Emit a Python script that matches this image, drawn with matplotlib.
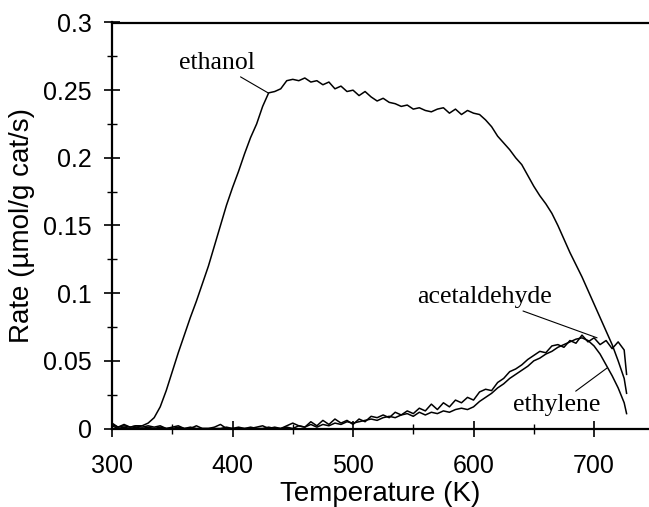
import matplotlib
matplotlib.use("Agg")
import matplotlib.pyplot as plt
from matplotlib.ticker import MultipleLocator

temps = list(range(300, 726, 5)) + [727]

ethanol = [.004, .001, .003, .001, .002, .002, .004, .008, .016, .028,
           .042, .056, .069, .082, .094, .107, .120, .135, .150, .165,
           .178, .190, .203, .215, .225, .238, .248, .249, .251, .257,
           .258, .257, .259, .256, .257, .254, .256, .251, .253, .249,
           .250, .246, .249, .245, .242, .244, .241, .240, .238, .239,
           .236, .237, .235, .234, .236, .237, .233, .236, .232, .235,
           .233, .232, .228, .223, .216, .211, .206, .200, .195, .187,
           .179, .172, .166, .159, .150, .140, .130, .121, .112, .102,
           .092, .082, .072, .062, .050, .037, .026]

acetaldehyde = [.003, .001, .002, .001, .002, .001, .002, .001, .002, .000,
                .001, .002, .000, .001, .000, .000, .000, .001, .003, .000,
                .000, .001, .000, .000, .001, .002, .000, .001, .000, .002,
                .004, .002, .001, .005, .002, .006, .003, .007, .004, .006,
                .003, .007, .005, .009, .008, .010, .008, .012, .010, .013,
                .011, .015, .013, .018, .014, .019, .016, .021, .019, .023,
                .021, .027, .029, .028, .034, .037, .042, .044, .047, .051,
                .054, .057, .056, .061, .062, .060, .065, .063, .069, .064,
                .067, .062, .065, .059, .064, .058, .040]

ethylene = [.002, .000, .001, .000, .001, .000, .001, .000, .001, .000,
            .000, .001, .000, .000, .002, .000, .000, .000, .000, .001,
            .000, .000, .000, .001, .000, .000, .001, .000, .000, .001,
            .000, .002, .001, .003, .001, .003, .002, .004, .003, .005,
            .004, .005, .006, .007, .006, .008, .009, .008, .010, .011,
            .009, .012, .010, .012, .011, .013, .012, .014, .015, .014,
            .016, .020, .023, .026, .030, .033, .037, .040, .043, .046,
            .050, .052, .055, .057, .060, .062, .064, .066, .067, .065,
            .061, .055, .047, .039, .030, .019, .011]

x_ticks = [300, 400, 500, 600, 700]
y_ticks = [0, 0.05, 0.1, 0.15, 0.2, 0.25, 0.3]
y_ticklabels = ["0", "0.05", "0.1", "0.15", "0.2", "0.25", "0.3"]

fig = plt.figure(figsize=(6.49, 5.07), dpi=100)
ax = fig.add_axes([112/649, 1 - 428.5/507, 1 - 112/649, (428.5 - 22.5)/507])

for series in (ethanol, acetaldehyde, ethylene):
    ax.plot(temps, series, color="black", lw=1.1)

ax.set_xlim(300, 745.6)
ax.set_ylim(0, 0.3)
ax.set_xticks(x_ticks)
ax.set_yticks(y_ticks)
ax.set_yticklabels(y_ticklabels)
ax.xaxis.set_minor_locator(MultipleLocator(50))
ax.yaxis.set_minor_locator(MultipleLocator(0.025))

sans = "Liberation Sans"
serif = "Liberation Serif"
for lab in ax.get_xticklabels() + ax.get_yticklabels():
    lab.set_fontfamily(sans)
    lab.set_fontsize(18)

ax.tick_params(axis="both", which="major", direction="inout", length=11, width=1.2)
ax.tick_params(axis="both", which="minor", direction="inout", length=7, width=1.0)
ax.tick_params(axis="x", which="major", pad=13)
ax.tick_params(axis="y", which="major", pad=9)

for s in ("left", "bottom", "top"):
    ax.spines[s].set_linewidth(1.6)
ax.spines["right"].set_visible(False)

ax.set_xlabel("Temperature (K)", fontfamily=sans, fontsize=20, labelpad=2)
ax.set_ylabel("Rate (\u00b5mol/g cat/s)", fontfamily=sans, fontsize=20, labelpad=6)

ann = dict(fontfamily=serif, fontsize=18.5, ha="center", va="center",
           arrowprops=dict(arrowstyle="-", color="black", lw=0.8, shrinkA=0, shrinkB=0))
ax.annotate("ethanol", xy=(429.5, 0.248), xytext=(387, 0.270), **ann)
ax.annotate("acetaldehyde", xy=(702.5, 0.067), xytext=(609.5, 0.097), **ann)
ax.annotate("ethylene", xy=(710.8, 0.0447), xytext=(669.3, 0.0174), **ann)

fig.savefig("out.png", dpi=100)
